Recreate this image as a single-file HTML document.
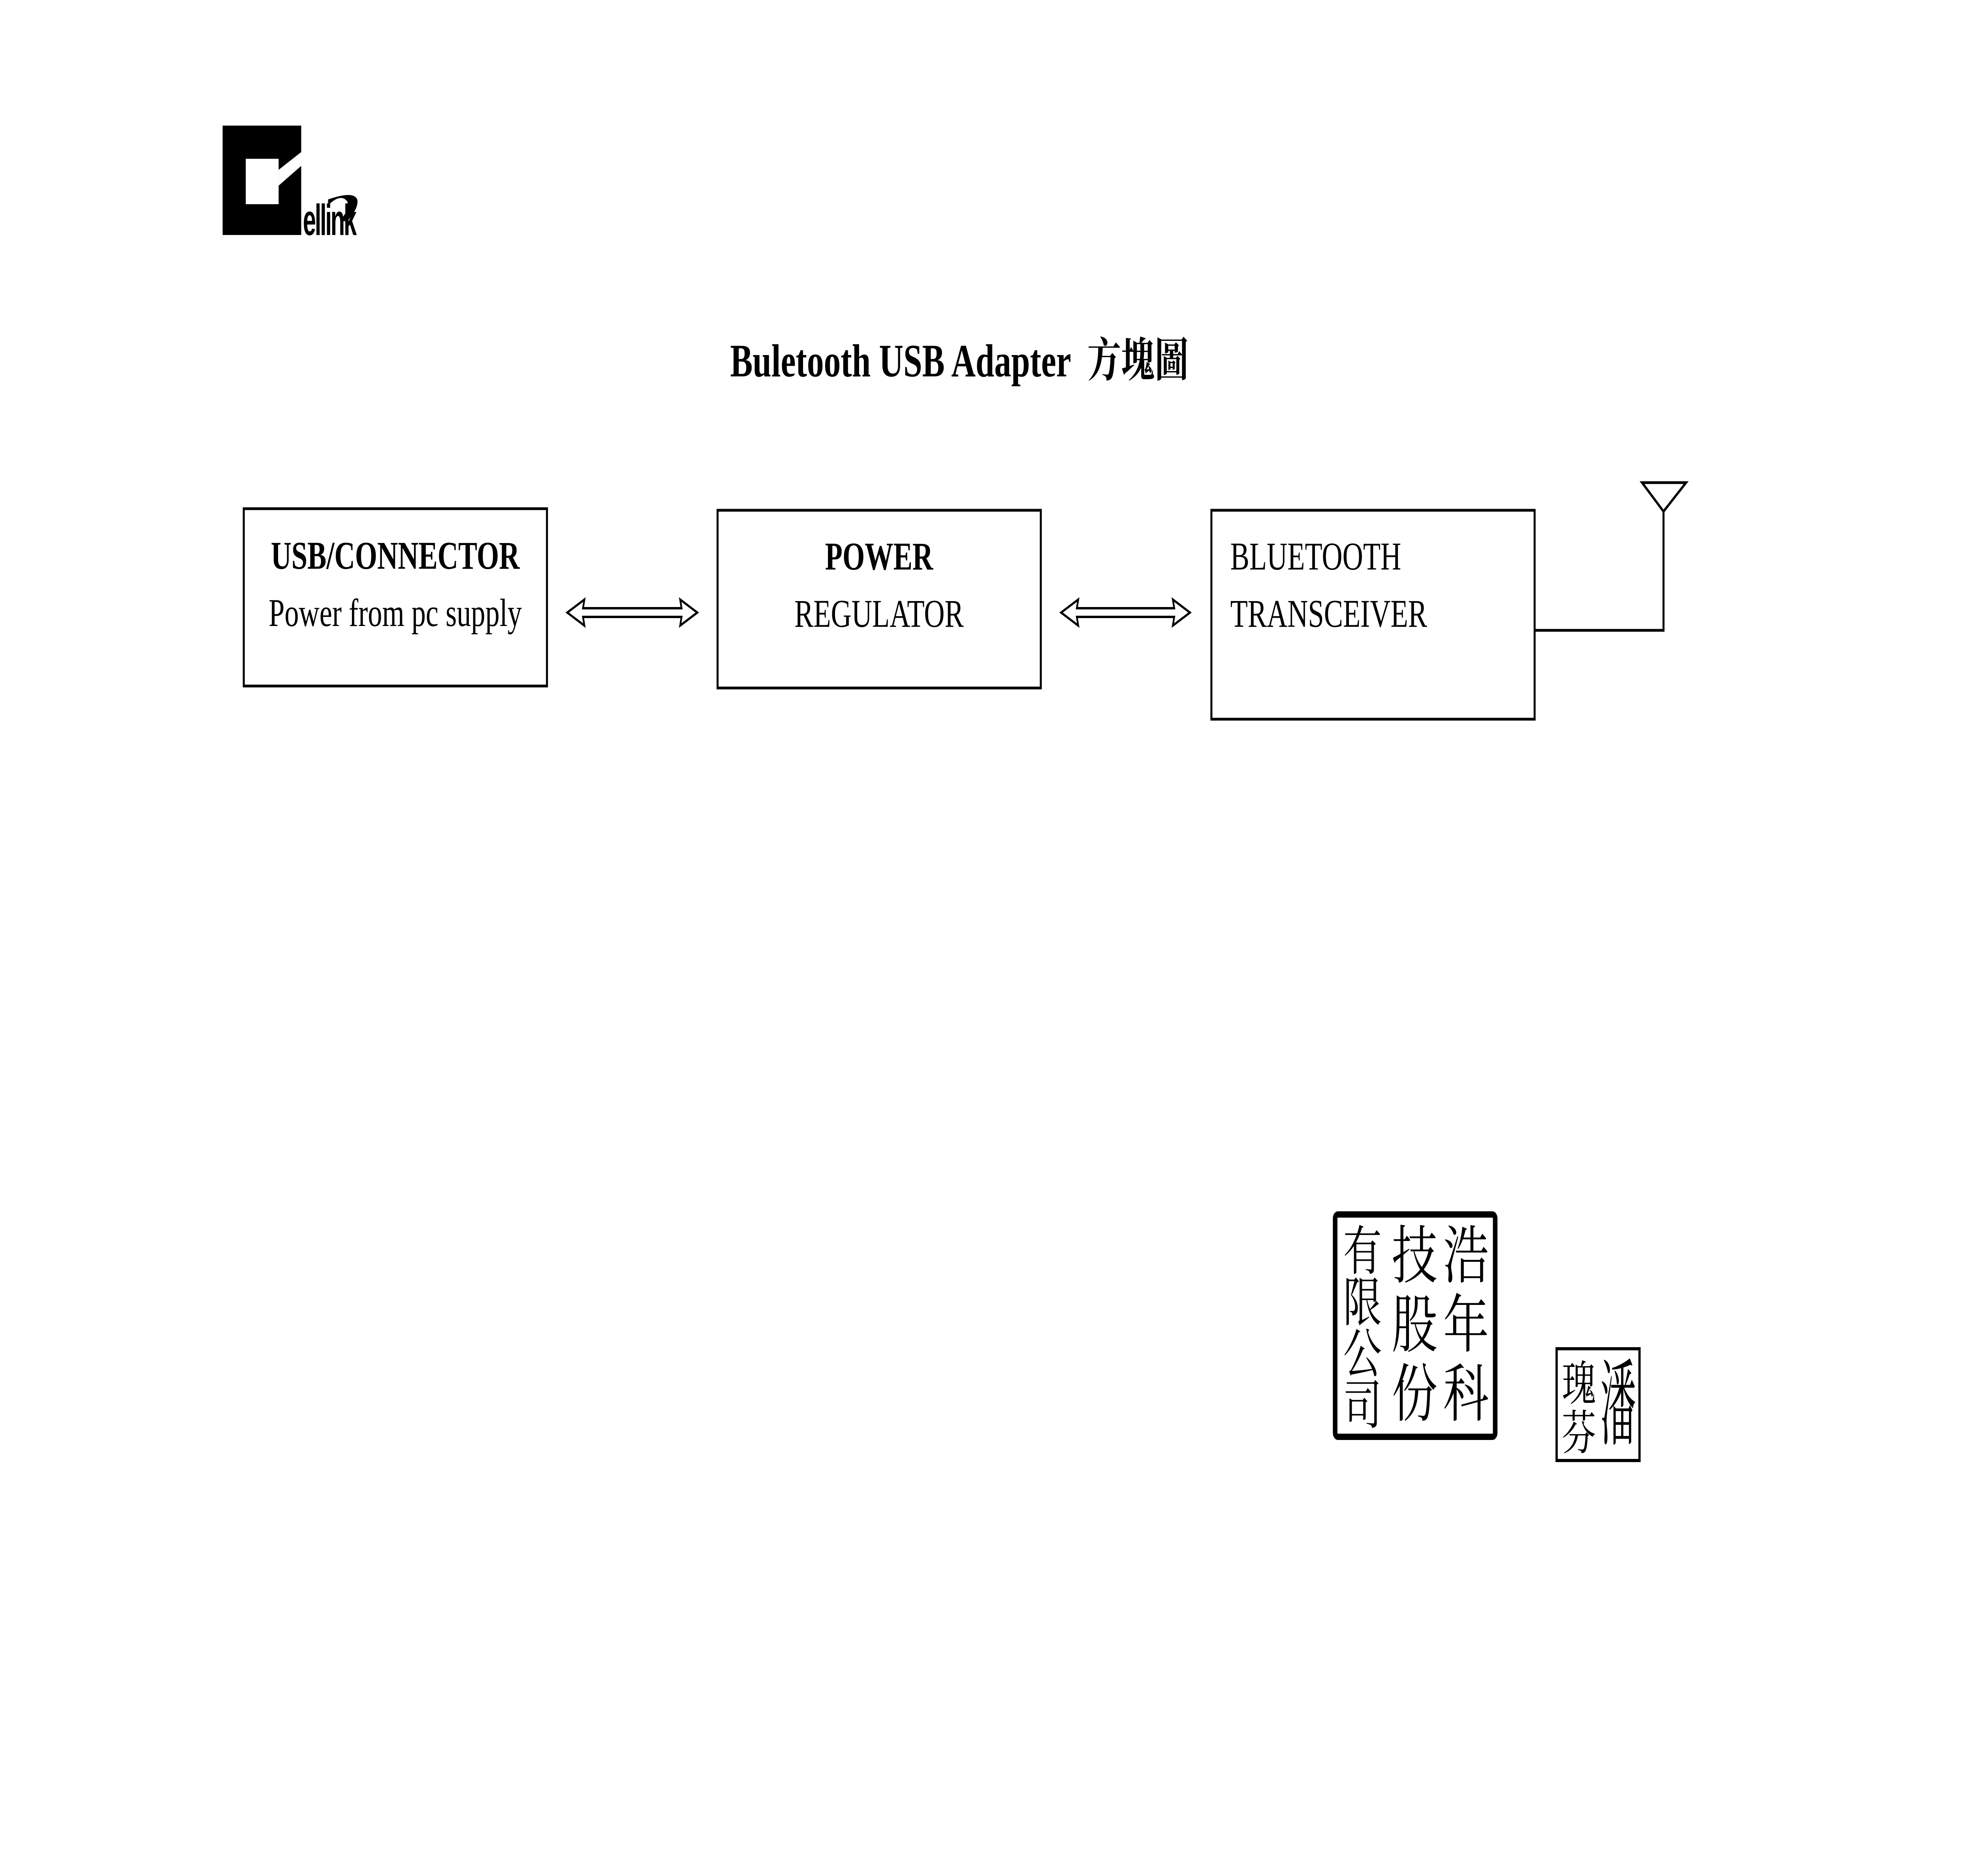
<!DOCTYPE html>
<html><head><meta charset="utf-8"><style>
html,body{margin:0;padding:0;background:#fff;width:100%;height:100%;overflow:hidden}
svg{display:block;width:100vw;height:100vh}
.s{font-family:"Liberation Serif","Noto Serif CJK SC",serif;fill:#000}
.c{font-family:"Noto Serif CJK SC","Noto Sans CJK SC",serif;fill:#000}
</style></head><body>
<svg viewBox="0 0 6911 4750" preserveAspectRatio="none">
<rect x="0" y="0" width="6911" height="4750" fill="#fff"/>
<rect x="779" y="318" width="275" height="277" fill="#000"/>
<rect x="860" y="402" width="115" height="115" fill="#fff"/>
<polygon points="975,430 1054,385 1054,420 975,470" fill="#fff"/>
<path d="M1148,520 C1175,500 1200,495 1215,510 C1225,525 1205,545 1190,560 L1215,560 C1240,540 1255,520 1250,505 C1240,488 1200,492 1148,505 Z" fill="#000"/>
<text x="1060" y="595" transform="translate(1060 0) scale(0.75 1) translate(-1060 0)" style="font-family:'Liberation Sans',sans-serif;font-weight:bold;font-size:110px;letter-spacing:-6px">ellink</text>
<g fill="none" stroke="#000" stroke-width="7">
<rect x="853" y="1288" width="1061" height="449"/>
<rect x="2511" y="1292" width="1131" height="450"/>
<rect x="4239" y="1292" width="1131" height="529"/>
<polyline points="5370,1596 5821,1596 5821,1295"/>
<polygon points="5746,1222 5900,1222 5821,1295"/>
<polygon points="1985,1551 2045,1518 2040,1540 2385,1540 2380,1518 2440,1551 2380,1584 2385,1562 2040,1562 2045,1584" stroke-width="6"/>
<polygon points="3713,1551 3773,1518 3768,1540 4109,1540 4104,1518 4164,1551 4104,1584 4109,1562 3768,1562 3773,1584" stroke-width="6"/>
<rect x="4672" y="3075" width="560" height="563" stroke-width="16" rx="10"/>
<rect x="5447" y="3415" width="290" height="283" stroke-width="8"/>
</g>
<text class="s" x="2555" y="953" font-size="118" font-weight="bold" xml:space="preserve">Buletooth USB Adapter  方塊圖</text>
<text class="s" x="1383" y="1440" font-size="100" font-weight="bold" text-anchor="middle">USB/CONNECTOR</text>
<text class="s" x="1383" y="1585" font-size="100" text-anchor="middle">Power from pc supply</text>
<text class="s" x="3076" y="1442" font-size="100" font-weight="bold" text-anchor="middle">POWER</text>
<text class="s" x="3076" y="1587" font-size="100" text-anchor="middle">REGULATOR</text>
<text class="s" x="4305" y="1442" font-size="100">BLUETOOTH</text>
<text class="s" x="4305" y="1587" font-size="100">TRANSCEIVER</text>
<g class="c" font-size="160">
<text x="5050" y="3235">浩</text>
<text x="5050" y="3410">年</text>
<text x="5050" y="3585">科</text>
<text x="4870" y="3235">技</text>
<text x="4870" y="3410">股</text>
<text x="4870" y="3585">份</text>
</g>
<g class="c" font-size="135">
<text x="4700" y="3215">有</text>
<text x="4700" y="3345">限</text>
<text x="4700" y="3475">公</text>
<text x="4700" y="3605">司</text>
</g>
<text class="c" x="5600" y="3540" font-size="125" transform="translate(0 3430) scale(1 1.9) translate(0 -3430)">潘</text>
<text class="c" x="5465" y="3545" font-size="120">瑰</text>
<text class="c" x="5465" y="3670" font-size="120">芬</text>
</svg>
</body></html>
